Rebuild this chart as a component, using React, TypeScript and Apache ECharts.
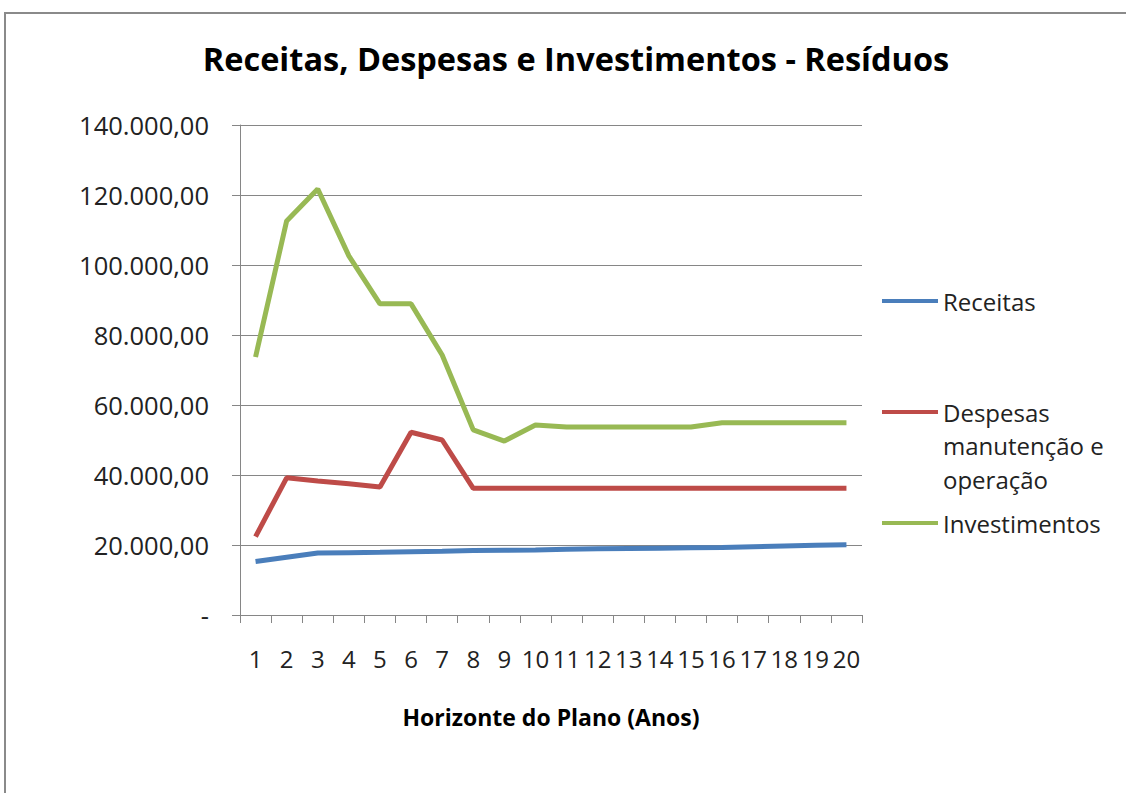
import React, { useEffect, useRef } from "react";
import * as echarts from "echarts";

const categories = ["1","2","3","4","5","6","7","8","9","10","11","12","13","14","15","16","17","18","19","20"];
const receitas = [15300, 16500, 17700, 17800, 17900, 18100, 18200, 18400, 18500, 18600, 18800, 18900, 19000, 19100, 19200, 19300, 19500, 19700, 19900, 20100];
const despesas = [22400, 39200, 38300, 37500, 36600, 52200, 50000, 36200, 36200, 36200, 36200, 36200, 36200, 36200, 36200, 36200, 36200, 36200, 36200, 36200];
const investimentos = [73700, 112600, 121700, 102600, 88900, 88900, 74300, 52900, 49700, 54300, 53700, 53700, 53700, 53700, 53700, 54900, 54900, 54900, 54900, 54900];
const seriesNames = ["Receitas", "Despesas manutenção e operação", "Investimentos"];
const colors = ["#4a7ebb", "#be4b48", "#98b954"];

const FONT = "Open Sans";

function fmt(v: number): string {
  if (v === 0) return "-";
  const s = Math.round(v).toString().replace(/\B(?=(\d{3})+(?!\d))/g, ".");
  return s + ",00";
}

export default function App() {
  const ref = useRef<HTMLDivElement>(null);
  useEffect(() => {
    if (!ref.current) return;
    const chart = echarts.init(ref.current, undefined, { renderer: "svg" });
    const legendBase = {
      orient: "vertical" as const,
      left: 882,
      padding: 0,
      icon: "rect",
      itemWidth: 56,
      itemHeight: 4,
      itemGap: 0,
      textStyle: { fontFamily: FONT, fontSize: 24, color: "#222" },
      selectedMode: false,
    };
    chart.setOption({
      animation: false,
      backgroundColor: "#fff",
      title: {
        text: "Receitas, Despesas e Investimentos - Resíduos",
        left: 571,
        textAlign: "center",
        top: 37,
        textStyle: { fontFamily: FONT, fontSize: 32.5, fontWeight: "bold", color: "#000" },
      },
      legend: [
        { ...legendBase, top: 289, data: [seriesNames[0]] },
        { ...legendBase, top: 400, data: [seriesNames[1]], formatter: () => "Despesas" },
        { ...legendBase, top: 511, data: [seriesNames[2]] },
      ],
      graphic: [
        {
          type: "rect",
          silent: true,
          shape: { x: 5, y: 13, width: 1140, height: 800 },
          style: { fill: "none", stroke: "#8a8a8a", lineWidth: 2 },
        },
        {
          type: "text",
          left: 943,
          top: 433,
          style: { text: "manutenção e", fontFamily: FONT, fontSize: 24, fill: "#222" },
        },
        {
          type: "text",
          left: 943,
          top: 467,
          style: { text: "operação", fontFamily: FONT, fontSize: 24, fill: "#222" },
        },
      ],
      grid: { left: 240, right: 264, top: 125, bottom: 178 },
      xAxis: {
        type: "category",
        data: categories,
        boundaryGap: true,
        name: "Horizonte do Plano (Anos)",
        nameLocation: "middle",
        nameGap: 90,
        nameTextStyle: { fontFamily: FONT, fontSize: 23, fontWeight: "bold", color: "#000" },
        axisLine: { lineStyle: { color: "#868686", width: 1 } },
        axisTick: { show: true, length: 8, lineStyle: { color: "#868686" } },
        axisLabel: { fontFamily: FONT, fontSize: 24, color: "#222", margin: 31, interval: 0 },
      },
      yAxis: {
        type: "value",
        min: 0,
        max: 140000,
        interval: 20000,
        axisLine: { show: true, lineStyle: { color: "#868686", width: 1 } },
        axisTick: { show: true, length: 8, lineStyle: { color: "#868686" } },
        splitLine: { lineStyle: { color: "#868686", width: 1 } },
        axisLabel: { fontFamily: FONT, fontSize: 25.5, color: "#222", margin: 31, formatter: fmt },
      },
      series: [
        { name: seriesNames[0], type: "line", data: receitas, color: colors[0], showSymbol: false, symbol: "none", lineStyle: { width: 5, color: colors[0] } },
        { name: seriesNames[1], type: "line", data: despesas, color: colors[1], showSymbol: false, symbol: "none", lineStyle: { width: 5, color: colors[1] } },
        { name: seriesNames[2], type: "line", data: investimentos, color: colors[2], showSymbol: false, symbol: "none", lineStyle: { width: 5, color: colors[2] } },
      ],
    });
    return () => chart.dispose();
  }, []);
  return <div ref={ref} style={{ position: "fixed", left: 0, top: 0, width: 1126, height: 793 }} />;
}
